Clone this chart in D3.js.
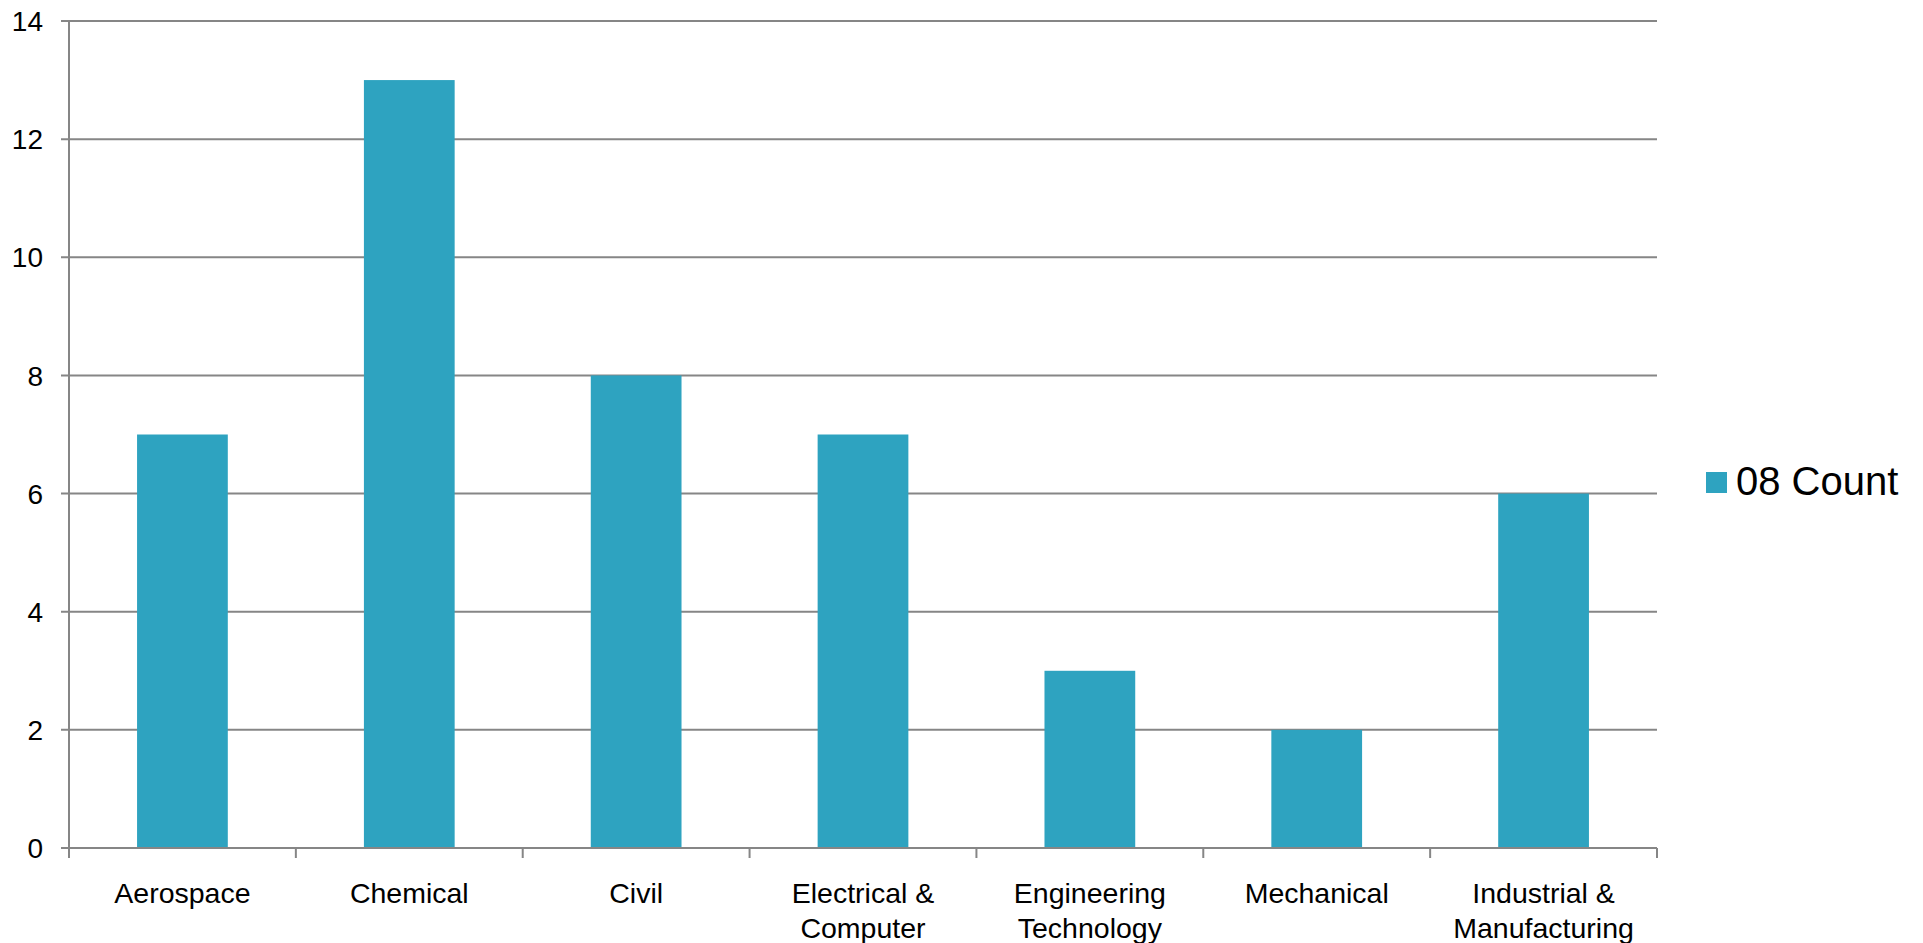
<!DOCTYPE html>
<html lang="en">
<head>
	<meta charset="UTF-8">
	<title>08 Count</title>
	<style>
		html, body { margin: 0; padding: 0; background: #fff; }
		svg { display: block; font-family: "Liberation Sans", Arial, sans-serif; }
	</style>
</head>
<body>
	<script src="https://d3js.org/d3.v7.min.js"></script>
	<script type="text/javascript">
		// data
		var categories = [["Aerospace"], ["Chemical"], ["Civil"], ["Electrical &", "Computer"],
			["Engineering", "Technology"], ["Mechanical"], ["Industrial &", "Manufacturing"]];
		var counts = [7, 13, 8, 7, 3, 2, 6];
		var yTicks = [0, 2, 4, 6, 8, 10, 12, 14];
		var seriesName = "08 Count";

		var W = 1923, H = 943;
		// plot area (note: "top" is reserved on window, so use other names)
		var plotL = 69, plotR = 1657, plotT = 21, plotB = 848;
		var barColor = "#2ea3c0", gridColor = "#868686";

		var svg = d3.select("body").append("svg").attr("width", W).attr("height", H);

		var x = d3.scaleBand().domain(d3.range(categories.length)).range([plotL, plotR]).paddingInner(0.6).paddingOuter(0.3);
		var xb = d3.scaleBand().domain(d3.range(categories.length)).range([plotL, plotR]);
		var y = d3.scaleLinear().domain([0, 14]).range([plotB, plotT]);

		// gridlines + y ticks
		svg.selectAll("line.grid").data(yTicks).enter().append("line")
			.attr("x1", plotL - 8).attr("x2", plotR)
			.attr("y1", function(d){ return y(d); }).attr("y2", function(d){ return y(d); })
			.attr("stroke", gridColor).attr("stroke-width", 2);

		svg.selectAll("text.ylab").data(yTicks).enter().append("text")
			.attr("x", 43).attr("y", function(d){ return y(d); })
			.attr("dy", "0.36em").attr("text-anchor", "end")
			.style("font-size", "28px").style("fill", "#000")
			.text(function(d){ return d; });

		// bars
		svg.selectAll("rect.bar").data(counts).enter().append("rect")
			.attr("x", function(d, i){ return x(i); })
			.attr("width", x.bandwidth())
			.attr("y", function(d){ return y(d); })
			.attr("height", function(d){ return y(0) - y(d); })
			.attr("fill", barColor);

		// axes lines
		svg.append("line").attr("x1", plotL).attr("x2", plotL).attr("y1", plotT).attr("y2", plotB + 10)
			.attr("stroke", gridColor).attr("stroke-width", 2);
		svg.append("line").attr("x1", plotL - 8).attr("x2", plotR).attr("y1", plotB).attr("y2", plotB)
			.attr("stroke", gridColor).attr("stroke-width", 2);
		var xt = d3.range(categories.length + 1).map(function(i){ return plotL + i * xb.step(); });
		svg.selectAll("line.xtick").data(xt).enter().append("line")
			.attr("x1", function(d){ return d; }).attr("x2", function(d){ return d; })
			.attr("y1", plotB).attr("y2", plotB + 10)
			.attr("stroke", gridColor).attr("stroke-width", 2);

		// category labels
		var lab = svg.selectAll("text.xlab").data(categories).enter().append("text")
			.attr("text-anchor", "middle")
			.style("font-size", "28.5px").style("fill", "#000")
			.attr("transform", function(d, i){ return "translate(" + (xb(i) + xb.bandwidth() / 2) + ",903)"; });
		lab.selectAll("tspan").data(function(d){ return d; }).enter().append("tspan")
			.attr("x", 0).attr("y", function(d, i){ return i * 35.3; })
			.text(function(d){ return d; });

		// legend
		svg.append("rect").attr("x", 1706).attr("y", 472).attr("width", 21).attr("height", 21).attr("fill", barColor);
		svg.append("text").attr("x", 1736).attr("y", 495)
			.style("font-size", "40px").style("fill", "#000").text(seriesName);
	</script>
</body>
</html>
